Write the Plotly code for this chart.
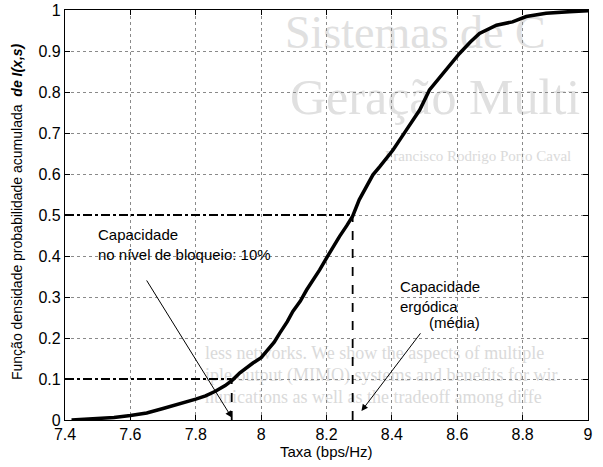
import plotly.graph_objects as go

# CDF of the achievable rate I(x,s)
rate = [7.42, 7.50, 7.55, 7.60, 7.65, 7.70, 7.75, 7.80, 7.83, 7.86, 7.89, 7.913,
        7.935, 7.955, 7.975, 8.00, 8.017, 8.04, 8.057, 8.08, 8.097, 8.12, 8.139,
        8.16, 8.179, 8.20, 8.219, 8.24, 8.262, 8.28, 8.30, 8.342, 8.363, 8.404,
        8.444, 8.485, 8.515, 8.566, 8.607, 8.64, 8.668, 8.72, 8.769, 8.811,
        8.872, 8.943, 9.0]
cdf = [0.0, 0.003, 0.006, 0.011, 0.017, 0.028, 0.039, 0.051, 0.059, 0.070, 0.084,
       0.098, 0.115, 0.128, 0.139, 0.152, 0.168, 0.190, 0.212, 0.240, 0.265,
       0.290, 0.317, 0.342, 0.366, 0.395, 0.422, 0.448, 0.474, 0.497, 0.537,
       0.598, 0.618, 0.659, 0.707, 0.756, 0.805, 0.854, 0.894, 0.922, 0.943,
       0.963, 0.971, 0.984, 0.992, 0.996, 0.998]

# reference levels
cap_ergodic = 8.28      # mean (ergodic) capacity
cap_outage = 7.91       # capacity at 10% outage
level_ergodic = 0.5
level_outage = 0.1

x_ticks = [7.4, 7.6, 7.8, 8.0, 8.2, 8.4, 8.6, 8.8, 9.0]
x_tick_text = ["7.4", "7.6", "7.8", "8", "8.2", "8.4", "8.6", "8.8", "9"]
y_ticks = [0, 0.1, 0.2, 0.3, 0.4, 0.5, 0.6, 0.7, 0.8, 0.9, 1.0]
y_tick_text = ["0", "0.1", "0.2", "0.3", "0.4", "0.5", "0.6", "0.7", "0.8", "0.9", "1"]

# faint text of the underlying page (pixel layout coordinates)
page_text = [
    ("Sistemas de C", 285, 36, 46),
    ("Geração Multi", 290, 101, 50),
    ("Francisco Rodrigo Porto Caval", 385, 157, 15),
    ("less networks. We show the aspects of multiple", 205, 354, 18),
    ("iple output (MIMO) systems and benefits for wir", 205, 376, 18),
    ("nunications as well as the tradeoff among diffe", 205, 398, 18),
]

W, H = 603, 467
PL, PR, PT, PB = 65, 588, 10, 420
FONT = "Liberation Sans, Arial, Helvetica, sans-serif"

fig = go.Figure()

# background page text on a full-page pixel axis (drawn first, below the chart)
for txt, px, py, size in page_text:
    fig.add_trace(go.Scatter(
        x=[px], y=[py], mode="text", text=[txt], textposition="middle right",
        textfont=dict(family="Liberation Serif, DejaVu Serif, serif", size=size,
                      color="#e0e0e0" if size > 30 else "#dadada"),
        hoverinfo="skip", showlegend=False, cliponaxis=False,
        xaxis="x", yaxis="y"))

# CDF curve
fig.add_trace(go.Scatter(
    x=rate, y=cdf, mode="lines", line=dict(color="black", width=3.5),
    showlegend=False, xaxis="x2", yaxis="y2"))

# guide lines for the two capacity definitions
for cap, lvl in [(cap_ergodic, level_ergodic), (cap_outage, level_outage)]:
    fig.add_trace(go.Scatter(
        x=[x_ticks[0], cap], y=[lvl, lvl], mode="lines",
        line=dict(color="black", width=1.8, dash="dashdot"),
        showlegend=False, xaxis="x2", yaxis="y2"))
    fig.add_trace(go.Scatter(
        x=[cap, cap], y=[0, lvl], mode="lines",
        line=dict(color="black", width=1.8, dash="dash"),
        showlegend=False, xaxis="x2", yaxis="y2"))

axis_common = dict(
    showline=True, linecolor="black", linewidth=1.3, mirror="ticks",
    ticks="inside", ticklen=5, tickwidth=1, tickcolor="black",
    showgrid=True, gridcolor="#8a8a8a", gridwidth=1, griddash="dot",
    zeroline=False, automargin=False,
    tickfont=dict(family=FONT, size=16, color="black"),
)

fig.update_layout(
    template="none",
    width=W, height=H,
    margin=dict(l=0, r=0, t=0, b=0, pad=0),
    paper_bgcolor="white", plot_bgcolor="rgba(0,0,0,0)",
    showlegend=False,
    xaxis=dict(domain=[0, 1], range=[0, W], visible=False, fixedrange=True,
               automargin=False),
    yaxis=dict(domain=[0, 1], range=[H, 0], visible=False, fixedrange=True,
               automargin=False),
    xaxis2=dict(domain=[PL / W, PR / W], range=[7.4, 9.0], anchor="y2",
                tickvals=x_ticks, ticktext=x_tick_text, **axis_common),
    yaxis2=dict(domain=[(H - PB) / H, (H - PT) / H], range=[0, 1.0], anchor="x2",
                tickvals=y_ticks, ticktext=y_tick_text, **axis_common),
)

ann_font = dict(family=FONT, size=15, color="black")
annotations = [
    # arrows (tail -> head) in data coordinates
    dict(x=cap_outage, y=0.006, ax=7.647, ay=0.344, xref="x2", yref="y2",
         axref="x2", ayref="y2", showarrow=True, arrowhead=2, arrowsize=1.3,
         arrowwidth=1, arrowcolor="black", text=""),
    dict(x=8.307, y=0.022, ax=8.491, ay=0.215, xref="x2", yref="y2",
         axref="x2", ayref="y2", showarrow=True, arrowhead=2, arrowsize=1.3,
         arrowwidth=1, arrowcolor="black", text=""),
    # labels
    dict(x=96, y=224, xref="x", yref="y", xanchor="left", yanchor="top",
         align="left", showarrow=False, font=ann_font,
         text="Capacidade<br>no nível de bloqueio: 10%"),
    dict(x=398, y=276, xref="x", yref="y", xanchor="left", yanchor="top",
         align="left", showarrow=False, font=ann_font,
         text="Capacidade<br>ergódica"),
    dict(x=427, y=312, xref="x", yref="y", xanchor="left", yanchor="top",
         align="left", showarrow=False, font=ann_font, text="(média)"),
    # axis titles
    dict(x=(PL + PR) / 2, y=451, xref="x", yref="y", xanchor="center",
         yanchor="middle", showarrow=False, font=ann_font,
         text="Taxa (bps/Hz)"),
    dict(x=17, y=212, xref="x", yref="y", xanchor="center", yanchor="middle",
         showarrow=False, textangle=-90,
         font=dict(family=FONT, size=14, color="black"),
         text="Função densidade probabilidade acumulada  <b><i>de I(x,s)</i></b>"),
]
fig.update_layout(annotations=annotations)

fig.write_html("out.html")
